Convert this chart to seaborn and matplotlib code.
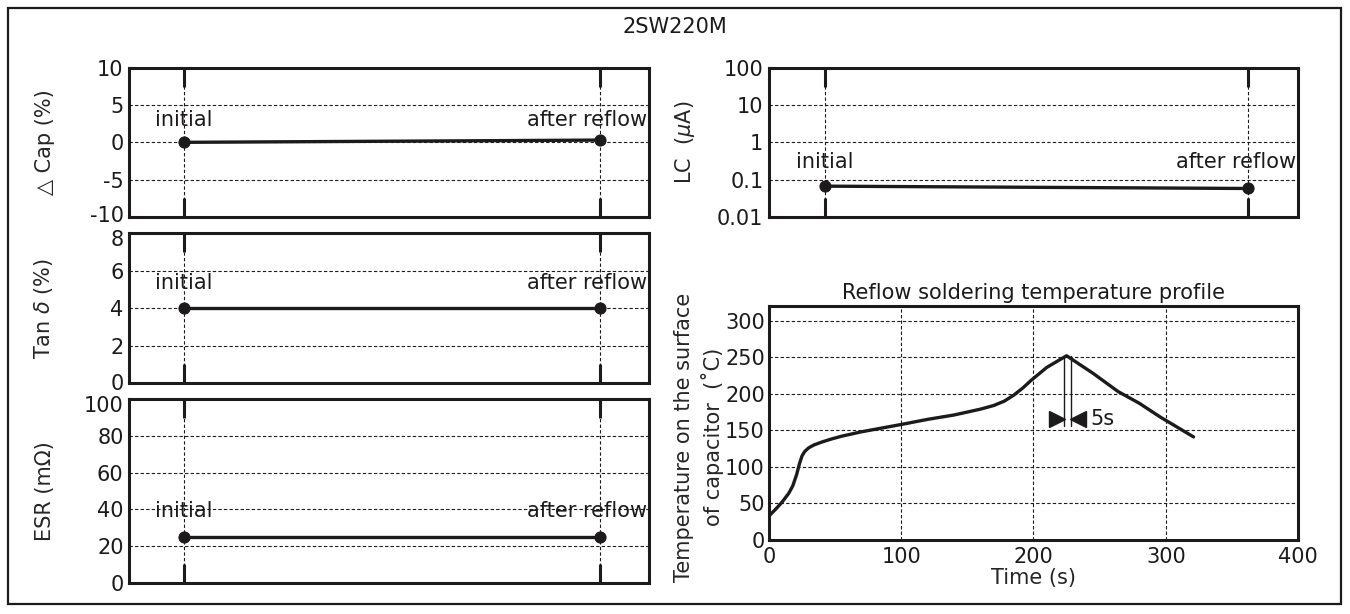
#!/usr/bin/env python
"""
Reflow soldering test results for 2SW220M: four parameter panels plus the
temperature profile used for the test.
"""

import numpy as np
import pandas as pd
import matplotlib
matplotlib.use("Agg")
import matplotlib.pyplot as plt
import matplotlib.transforms as mtransforms
from matplotlib.patches import Rectangle
import seaborn as sns

# --- data -------------------------------------------------------------------
stages = ["initial", "after reflow"]
stage_pos = [0, 1]

cap_change = [0.0, 0.3]        # delta Cap (%)
tan_delta = [4.0, 4.0]         # Tan d (%)
esr = [25.0, 25.0]             # ESR (mOhm)
leak_current = [0.067, 0.058]  # LC (uA)

time_s = [0, 5, 10, 15, 18, 21, 23, 25, 27, 30, 34, 40, 47, 55, 70, 85, 100,
          120, 140, 150, 160, 170, 178, 185, 192, 198, 210, 225, 245, 264,
          280, 296, 321]
temp_c = [33, 42, 52, 64, 74, 90, 104, 115, 121, 126, 130, 134, 138, 142, 148,
          153, 158, 165, 171, 175, 179, 184, 190, 198, 208, 218, 236, 252, 228,
          203, 187, 168, 141]

peak_window_s = [223, 228]     # 5 s around the peak
peak_window_temp = [156, 252]
arrow_level = 166
arrow_tips_s = [217.5, 233.5]

INK = "#1c1a1a"
FS = 15

sns.set_style("white")
plt.rcParams["font.family"] = ["DejaVu Sans"]
plt.rcParams["font.size"] = FS
plt.rcParams["axes.edgecolor"] = INK
plt.rcParams["text.color"] = INK
plt.rcParams["xtick.color"] = INK
plt.rcParams["ytick.color"] = INK

fig = plt.figure(figsize=(13.5, 6.14), dpi=100)

# outer frame and title
fig.patches.append(Rectangle((0.0059, 0.0163), 0.9874, 0.9707, transform=fig.transFigure,
                             fill=False, lw=1.6, ec=INK))
fig.text(0.5, 0.956, "2SW220M", ha="center", va="center", fontsize=FS)

LEFT_X, LEFT_W = 0.0956, 0.3852
RIGHT_X, RIGHT_W = 0.5696, 0.3919
XLIM = (-0.1325, 1.1175)


def nudge_label(label, dy_px):
    """Shift a tick label vertically by a few pixels."""
    off = mtransforms.ScaledTranslation(0, dy_px / fig.dpi, fig.dpi_scale_trans)
    label.set_transform(label.get_transform() + off)


def stage_panel(ax, values, ylim, yticks, ylabel, text_y, label_x):
    df = pd.DataFrame({"pos": stage_pos, "value": values})
    sns.lineplot(data=df, x="pos", y="value", ax=ax, color=INK, lw=2.4,
                 marker="o", markersize=8, markeredgecolor=INK)
    ax.set_xlim(*XLIM)
    ax.set_ylim(*ylim)
    ax.set_yticks(yticks)
    ax.set_xticks(stage_pos)
    ax.tick_params(axis="x", direction="in", length=14, width=2.2,
                   top=True, bottom=True, labelbottom=False)
    ax.tick_params(axis="y", length=0, pad=4, labelsize=FS)
    ax.grid(True, color=INK, lw=0.8, ls=(0, (3, 2)))
    for sp in ax.spines.values():
        sp.set_linewidth(2.2)
    ax.set_xlabel("")
    ax.set_ylabel(ylabel, fontsize=FS)
    ax.yaxis.set_label_coords(label_x, 0.5)
    ax.text(stage_pos[0], text_y, stages[0], ha="center", va="center", fontsize=FS)
    ax.text(1.113, text_y, stages[1], ha="right", va="center", fontsize=FS)


ax1 = fig.add_axes([LEFT_X, 0.6466, LEFT_W, 0.2432])
stage_panel(ax1, cap_change, (-10, 10), [-10, -5, 0, 5, 10], "\u25b3 Cap (%)", 3.0, -0.142)
ax1.set_yticklabels(["-10", "-5", "0", "5", "10"])

ax2 = fig.add_axes([LEFT_X, 0.3762, LEFT_W, 0.2443])
stage_panel(ax2, tan_delta, (0, 8), [0, 2, 4, 6, 8], r"Tan $\delta$ (%)", 5.35, -0.142)

ax3 = fig.add_axes([LEFT_X, 0.0505, LEFT_W, 0.2997])
stage_panel(ax3, esr, (0, 100), [0, 20, 40, 60, 80, 100], "ESR (m\u03a9)", 39, -0.142)

ax4 = fig.add_axes([RIGHT_X, 0.6466, RIGHT_W, 0.2432])
ax4.set_yscale("log")
stage_panel(ax4, leak_current, (0.01, 100), [0.01, 0.1, 1, 10, 100],
            r"LC  ($\mu$A)", 0.305, -0.136)
ax4.set_yticklabels(["0.01", "0.1", "1", "10", "100"])
ax4.yaxis.set_minor_locator(matplotlib.ticker.NullLocator())

# stacked panels: keep edge tick labels from colliding, as in the reference
nudge_label(ax1.get_yticklabels()[0], 3)
nudge_label(ax2.get_yticklabels()[-1], -5)
nudge_label(ax2.get_yticklabels()[0], 1)
nudge_label(ax3.get_yticklabels()[-1], -5)

# temperature profile
ax5 = fig.add_axes([RIGHT_X, 0.1205, RIGHT_W, 0.3811])
sns.lineplot(x=time_s, y=temp_c, ax=ax5, color=INK, lw=2.4, sort=False)
ax5.set_xlim(0, 400)
ax5.set_ylim(0, 320)
ax5.set_xticks([0, 100, 200, 300, 400])
ax5.set_yticks([0, 50, 100, 150, 200, 250, 300])
ax5.tick_params(axis="both", length=0, labelsize=FS)
ax5.tick_params(axis="y", pad=3)
ax5.tick_params(axis="x", pad=5)
ax5.grid(True, color=INK, lw=0.8, ls=(0, (3, 2)))
for sp in ax5.spines.values():
    sp.set_linewidth(2.2)
ax5.set_title("Reflow soldering temperature profile", fontsize=FS, pad=5)
ax5.set_xlabel("Time (s)", fontsize=FS, labelpad=1)
ax5.set_ylabel("Temperature on the surface\nof capacitor  (\u02daC)", fontsize=FS,
               linespacing=1.35)
ax5.yaxis.set_label_coords(-0.085, 0.44)

for t in peak_window_s:
    ax5.plot([t, t], peak_window_temp, color=INK, lw=1.0)
ax5.plot(arrow_tips_s[0], arrow_level, marker=">", color=INK, markersize=11, ls="none")
ax5.plot(arrow_tips_s[1], arrow_level, marker="<", color=INK, markersize=11, ls="none")
ax5.text(243, arrow_level, "5s", ha="left", va="center", fontsize=FS)

fig.savefig("out.png", dpi=100)
plt.close(fig)
